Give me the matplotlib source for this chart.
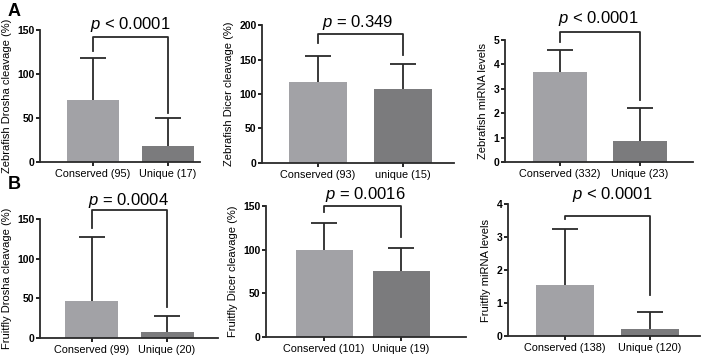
import matplotlib.pyplot as plt

plt.rcParams['font.family'] = ['Liberation Sans', 'DejaVu Sans']
plt.rcParams['mathtext.fontset'] = 'custom'
plt.rcParams['mathtext.it'] = 'Liberation Sans:italic'
plt.rcParams['mathtext.rm'] = 'Liberation Sans'

W, H = 702, 360

# panel data
labels = [
    ['Conserved (95)', 'Unique (17)'],
    ['Conserved (93)', 'unique (15)'],
    ['Conserved (332)', 'Unique (23)'],
    ['Conserved (99)', 'Unique (20)'],
    ['Conserved (101)', 'Unique (19)'],
    ['Conserved (138)', 'Unique (120)'],
]
means = [[70, 18], [118, 107], [3.68, 0.87], [47, 7], [100, 76], [1.56, 0.21]]
sds = [[48, 32], [37, 36], [0.92, 1.35], [80, 21], [31, 26], [1.67, 0.52]]
ylabels = ['Zebrafish Drosha cleavage (%)', 'Zebrafish Dicer cleavage (%)',
           'Zebrafish miRNA levels', 'Fruitfly Drosha cleavage (%)',
           'Fruitfly Dicer cleavage (%)', 'Fruitfly miRNA levels']
yticks = [[0, 50, 100, 150], [0, 50, 100, 150, 200], [0, 1, 2, 3, 4, 5],
          [0, 50, 100, 150], [0, 50, 100, 150], [0, 1, 2, 3, 4]]
pvals = ['$p$ < 0.0001', '$p$ = 0.349', '$p$ < 0.0001',
         '$p$ = 0.0004', '$p$ = 0.0016', '$p$ < 0.0001']

# layout in pixels: spine x, axis right end, top y, bottom y, bar centre px (c0, c1), bar width px
boxes = [
    (40, 200, 30, 162, 92.5, 167.5, 52),
    (262, 454, 25, 163, 318, 402.5, 58),
    (505, 693, 40, 162, 560, 640, 54),
    (40, 218, 219, 338, 91.5, 167, 53),
    (266, 466, 206, 337, 324, 401, 57),
    (508, 700, 204, 336, 564.5, 650, 58),
]
# bracket: top y px, left drop y px, right drop y px
brackets = [(37, 51, 113), (34, 43, 55), (32, 42, 100),
            (210, 228, 307), (206, 212, 237), (216, 219, 295)]
ptext = [(130, 25), (358, 23), (598, 19), (128, 201), (365, 195), (612, 195)]

colors = ['#a2a2a6', '#7b7b7d']
ink = '#2a2a2a'

fig = plt.figure(figsize=(W / 100, H / 100), dpi=100)

for i in range(6):
    x0, x1, yt, yb, c0, c1, bw = boxes[i]
    ax = fig.add_axes([x0 / W, 1 - yb / H, (x1 - x0) / W, (yb - yt) / H])
    step = c1 - c0
    ax.set_xlim(-(c0 - x0) / step, 1 + (x1 - c1) / step)
    ymax = yticks[i][-1]
    ax.set_ylim(0, ymax)
    ax.bar([0, 1], means[i], width=bw / step, color=colors, zorder=2)
    # upper-only error bars
    tops = [m + s for m, s in zip(means[i], sds[i])]
    ax.vlines([0, 1], means[i], tops, color=ink, lw=1.3, zorder=1)
    cap = 13 / step
    ax.hlines(tops, [-cap, 1 - cap], [cap, 1 + cap], color=ink, lw=1.3, zorder=1)
    ax.set_xticks([0, 1])
    ax.set_xticklabels(labels[i], fontsize=7.8)
    ax.set_yticks(yticks[i])
    ax.tick_params(axis='y', labelsize=7.5, length=3, width=1.2, pad=1)
    ax.tick_params(axis='x', length=3, width=1.2, pad=2)
    for t in ax.get_yticklabels():
        t.set_fontweight('bold')
    ax.set_ylabel(ylabels[i], fontsize=8, labelpad=4)
    for s in ['top', 'right']:
        ax.spines[s].set_visible(False)
    for s in ['left', 'bottom']:
        ax.spines[s].set_linewidth(1.3)
        ax.spines[s].set_color(ink)

    # significance bracket, pixel positions converted to data
    def py(p):
        return (yb - p) / (yb - yt) * ymax
    bt, bl, br = brackets[i]
    ax.plot([0, 0, 1, 1], [py(bl), py(bt), py(bt), py(br)], color=ink,
            lw=1.3, clip_on=False)
    tx, ty = ptext[i]
    fig.text(tx / W, 1 - ty / H, pvals[i], fontsize=12, ha='center', va='center')

fig.text(8 / W, 1 - 12 / H, 'A', fontsize=13, fontweight='bold', va='center')
fig.text(8 / W, 1 - 185 / H, 'B', fontsize=13, fontweight='bold', va='center')

fig.savefig('out.png', dpi=100)
